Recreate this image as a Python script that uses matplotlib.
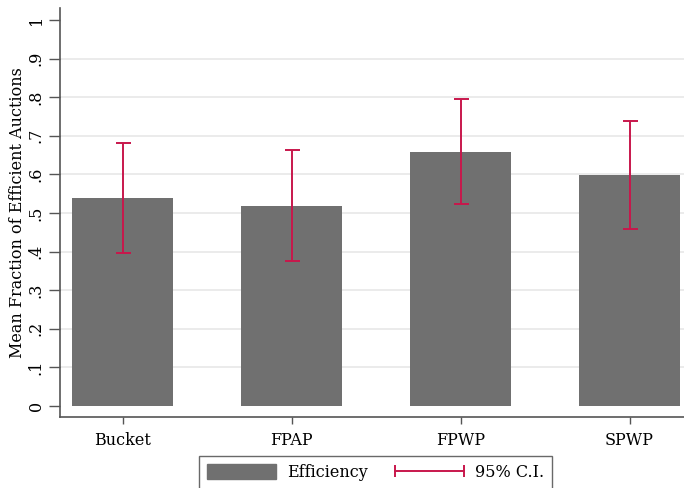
import matplotlib
matplotlib.use("Agg")
from matplotlib import pyplot as plt
from matplotlib.lines import Line2D
from matplotlib.patches import Patch
from matplotlib.legend_handler import HandlerLine2D

# data
formats = ["Bucket", "FPAP", "FPWP", "SPWP"]
efficiency = [0.538, 0.518, 0.659, 0.598]
ci_low = [0.396, 0.376, 0.524, 0.458]
ci_high = [0.682, 0.663, 0.795, 0.739]
y_ticks = [0, 0.1, 0.2, 0.3, 0.4, 0.5, 0.6, 0.7, 0.8, 0.9, 1.0]
y_tick_labels = ["0", ".1", ".2", ".3", ".4", ".5", ".6", ".7", ".8", ".9", "1"]

bar_color = "#707070"
ci_color = "#c8174c"
axis_color = "#555555"

plt.rcParams["font.family"] = ["DejaVu Serif"]

W, H = 684, 488
fig = plt.figure(figsize=(W / 100, H / 100), dpi=100)
ax = fig.add_axes([60 / W, (H - 417) / H, (W - 60) / W, (417 - 8) / H])

x = list(range(len(formats)))
ax.bar(x, efficiency, width=0.598, color=bar_color, zorder=2)

err_lo = [e - lo for e, lo in zip(efficiency, ci_low)]
err_hi = [hi - e for e, hi in zip(efficiency, ci_high)]
ax.errorbar(x, efficiency, yerr=[err_lo, err_hi], fmt="none", ecolor=ci_color,
            elinewidth=1.4, capsize=5.4, capthick=1.4, zorder=3)

for t in y_ticks[1:-1]:
    ax.axhline(t, color="#e8e8e8", lw=1.2, zorder=1)

ax.set_xlim(-0.370, 3.322)
ax.set_ylim(-0.0285, 1.031)
ax.set_yticks(y_ticks)
ax.set_yticklabels(y_tick_labels, rotation=90, va="center", fontsize=11.5)
ax.set_xticks(x)
ax.set_xticklabels(formats, fontsize=11.5)
ax.tick_params(axis="y", length=8, width=1, color=axis_color, pad=3)
ax.tick_params(axis="x", length=5, width=1, color=axis_color, pad=6)
ax.set_ylabel("Mean Fraction of Efficient Auctions", fontsize=11.5, labelpad=1)

for side in ["top", "right"]:
    ax.spines[side].set_visible(False)
for side in ["left", "bottom"]:
    ax.spines[side].set_color(axis_color)
    ax.spines[side].set_linewidth(1.2)

bar_handle = Patch(facecolor=bar_color, edgecolor=bar_color)
ci_handle = Line2D([0], [0], color=ci_color, lw=1.4, marker="|",
                   markersize=9, markeredgewidth=1.4)
leg = fig.legend([bar_handle, ci_handle], ["Efficiency", "95% C.I."],
                 handler_map={ci_handle: HandlerLine2D(numpoints=2, marker_pad=0)},
                 loc="upper center", bbox_to_anchor=(375.5 / W, 1 - 456 / H),
                 borderaxespad=0, ncol=2, fontsize=11.5, frameon=True,
                 fancybox=False, edgecolor="#444444", handlelength=4.3,
                 handleheight=1.1, columnspacing=1.7, borderpad=0.5,
                 handletextpad=0.7)
leg.get_frame().set_linewidth(1.0)

fig.savefig("out.png", dpi=100)
